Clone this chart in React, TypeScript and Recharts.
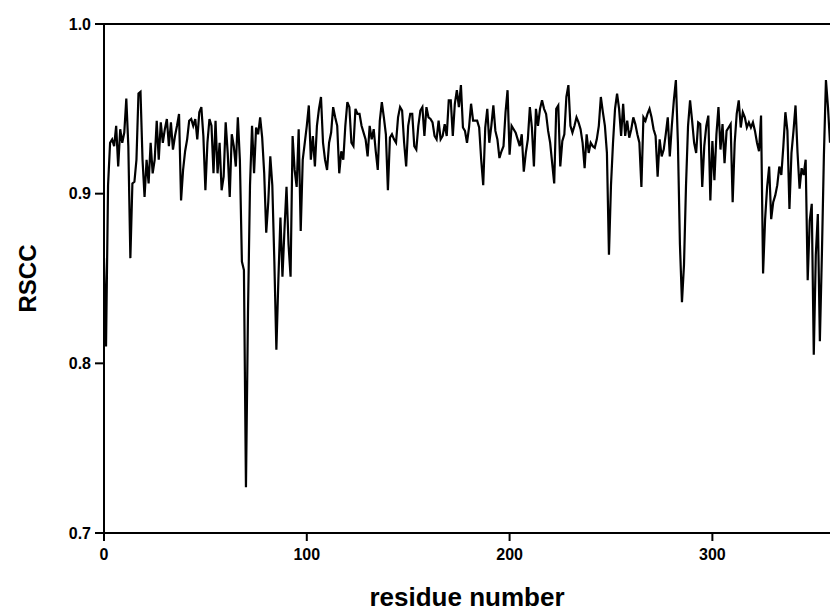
import React from 'react';
import { LineChart, Line, XAxis, YAxis, ReferenceLine } from 'recharts';

// real-space correlation coefficient per residue, starting at residue 0
const rscc = [
  0.862, 0.810, 0.905, 0.930, 0.932, 0.928, 0.940, 0.916, 0.938, 0.930,
  0.936, 0.956, 0.928, 0.862, 0.906, 0.907, 0.920, 0.959, 0.960, 0.920,
  0.898, 0.920, 0.906, 0.930, 0.912, 0.920, 0.943, 0.920, 0.942, 0.930,
  0.938, 0.944, 0.928, 0.942, 0.926, 0.934, 0.940, 0.947, 0.896, 0.914,
  0.925, 0.932, 0.943, 0.944, 0.940, 0.944, 0.932, 0.948, 0.951, 0.934,
  0.902, 0.930, 0.944, 0.940, 0.912, 0.943, 0.912, 0.930, 0.902, 0.910,
  0.942, 0.924, 0.898, 0.935, 0.928, 0.916, 0.945, 0.920, 0.860, 0.855,
  0.727, 0.830, 0.905, 0.940, 0.912, 0.939, 0.935, 0.945, 0.933, 0.912,
  0.877, 0.895, 0.922, 0.905, 0.860, 0.808, 0.850, 0.886, 0.851, 0.879,
  0.904, 0.870, 0.851, 0.934, 0.914, 0.904, 0.938, 0.878, 0.920, 0.930,
  0.940, 0.952, 0.920, 0.934, 0.916, 0.940, 0.950, 0.957, 0.930, 0.920,
  0.914, 0.930, 0.936, 0.951, 0.945, 0.940, 0.912, 0.925, 0.920, 0.940,
  0.954, 0.951, 0.930, 0.928, 0.950, 0.947, 0.947, 0.940, 0.936, 0.932,
  0.922, 0.940, 0.932, 0.938, 0.925, 0.914, 0.943, 0.954, 0.945, 0.935,
  0.902, 0.933, 0.935, 0.932, 0.930, 0.945, 0.951, 0.949, 0.930, 0.916,
  0.940, 0.947, 0.947, 0.928, 0.926, 0.940, 0.949, 0.951, 0.934, 0.951,
  0.945, 0.944, 0.942, 0.934, 0.932, 0.943, 0.932, 0.934, 0.941, 0.934,
  0.955, 0.955, 0.934, 0.953, 0.961, 0.951, 0.964, 0.939, 0.937, 0.930,
  0.939, 0.953, 0.943, 0.943, 0.943, 0.939, 0.920, 0.905, 0.939, 0.950,
  0.930, 0.940, 0.952, 0.937, 0.932, 0.921, 0.925, 0.928, 0.948, 0.961,
  0.923, 0.940, 0.938, 0.936, 0.932, 0.928, 0.935, 0.913, 0.924, 0.932,
  0.951, 0.939, 0.916, 0.950, 0.940, 0.950, 0.955, 0.950, 0.947, 0.937,
  0.930, 0.918, 0.906, 0.950, 0.952, 0.916, 0.931, 0.935, 0.957, 0.964,
  0.940, 0.936, 0.940, 0.945, 0.942, 0.938, 0.930, 0.915, 0.935, 0.924,
  0.930, 0.928, 0.927, 0.932, 0.940, 0.957, 0.948, 0.940, 0.924, 0.864,
  0.905, 0.930, 0.950, 0.959, 0.950, 0.934, 0.953, 0.934, 0.943, 0.933,
  0.938, 0.945, 0.941, 0.935, 0.930, 0.904, 0.945, 0.943, 0.947, 0.950,
  0.945, 0.938, 0.934, 0.910, 0.932, 0.922, 0.926, 0.935, 0.945, 0.922,
  0.940, 0.955, 0.967, 0.930, 0.870, 0.836, 0.858, 0.905, 0.940, 0.955,
  0.943, 0.930, 0.924, 0.942, 0.941, 0.904, 0.928, 0.940, 0.946, 0.896,
  0.931, 0.908, 0.935, 0.951, 0.926, 0.941, 0.918, 0.937, 0.939, 0.941,
  0.895, 0.930, 0.947, 0.955, 0.939, 0.948, 0.945, 0.939, 0.942, 0.939,
  0.942, 0.937, 0.930, 0.925, 0.946, 0.853, 0.885, 0.904, 0.916, 0.885,
  0.895, 0.899, 0.905, 0.916, 0.911, 0.928, 0.948, 0.937, 0.891, 0.924,
  0.937, 0.952, 0.924, 0.903, 0.915, 0.911, 0.920, 0.849, 0.884, 0.894,
  0.805, 0.864, 0.888, 0.813, 0.864, 0.923, 0.967, 0.951, 0.930,
];
const firstResidue = 0;
const lastResidue = 358;
const xTicks = [0, 100, 200, 300];
const yTicks = [0.7, 0.8, 0.9, 1.0];

const data = rscc.map((v, i) => ({ residue: firstResidue + i, rscc: v }));

const font = "'Liberation Sans', Arial, sans-serif";
const tickStyle = { fill: '#000', fontSize: 16, fontWeight: 700, fontFamily: font };

export default function App() {
  return <div style={{ position: 'absolute', left: 0, top: 0, width: 830, height: 612, background: '#fff' }}>
      <LineChart width={830} height={612} data={data} margin={{
      top: 24,
      right: 0,
      left: 0,
      bottom: 0
    }}>
        <XAxis dataKey="residue" type="number" domain={[firstResidue, lastResidue]} ticks={xTicks} interval={0} allowDataOverflow height={79} axisLine={{
        stroke: '#000',
        strokeWidth: 2
      }} tickLine={{
        stroke: '#000',
        strokeWidth: 2
      }} tickSize={8} tickMargin={8} tick={tickStyle} label={{
        value: 'residue number',
        position: 'insideBottom',
        offset: 6,
        style: { fill: '#000', fontSize: 26, fontWeight: 700, fontFamily: font }
      }} />
        <YAxis type="number" domain={[0.7, 1.0]} ticks={yTicks} interval={0} allowDataOverflow width={104} axisLine={{
        stroke: '#000',
        strokeWidth: 2
      }} tickLine={{
        stroke: '#000',
        strokeWidth: 2
      }} tickSize={9} tickMargin={4} tick={tickStyle} tickFormatter={v => v.toFixed(1)} label={{
        value: 'RSCC',
        angle: -90,
        position: 'insideLeft',
        offset: 27,
        style: { fill: '#000', fontSize: 24, fontWeight: 700, fontFamily: font, textAnchor: 'middle' }
      }} />
        <ReferenceLine y={1.0} stroke="#000" strokeWidth={2} />
        <Line type="linear" dataKey="rscc" stroke="#000" strokeWidth={2.2} dot={false} isAnimationActive={false} />
      </LineChart>
    </div>;
}
